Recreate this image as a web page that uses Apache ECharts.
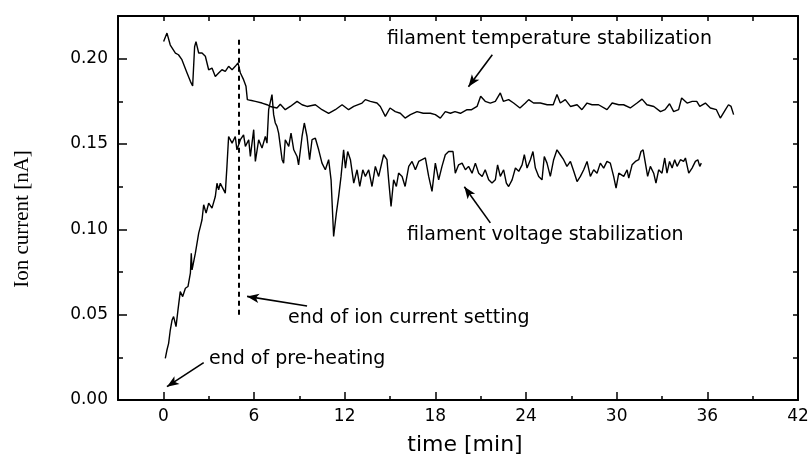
<!DOCTYPE html>
<html>
<head>
<meta charset="utf-8">
<script src="https://cdn.jsdelivr.net/npm/echarts@6/dist/echarts.min.js"></script>
<style>
html,body{margin:0;padding:0;background:#fff;}
#c{width:812px;height:458px;}
</style>
</head>
<body>
<div id="c"></div>
<script>
// ---- data ----
const tempT = [0.02,0.24,0.46,0.8,1.0,1.23,1.57,1.79,1.94,2.07,2.16,2.34,2.56,2.78,3.0,3.22,3.44,3.66,3.88,4.1,4.32,4.55,4.76,4.94,5.1,5.31,5.47,5.56,5.76,6.09,6.53,6.86,7.08,7.52,7.74,8.07,8.4,8.85,9.18,9.51,10.06,10.5,10.94,11.38,11.83,12.26,12.6,13.15,13.37,13.7,14.14,14.36,14.69,15.0,15.35,15.68,16.0,16.35,16.79,17.2,17.67,18.0,18.33,18.66,19.0,19.3,19.66,20.1,20.4,20.76,21.0,21.3,21.64,21.97,22.3,22.5,22.85,23.18,23.6,23.96,24.18,24.5,24.95,25.4,25.8,26.05,26.27,26.6,26.94,27.38,27.7,28.04,28.37,28.8,29.36,29.7,30.14,30.46,30.9,31.35,31.68,32.0,32.46,32.9,33.2,33.5,33.77,34.1,34.3,34.66,35.0,35.3,35.5,35.87,36.2,36.6,36.86,37.2,37.4,37.57,37.74];
const tempV = [0.210,0.215,0.208,0.2033,0.2023,0.1994,0.1916,0.1867,0.184,0.207,0.210,0.2033,0.2033,0.2014,0.1935,0.1945,0.1896,0.1916,0.1935,0.1926,0.1955,0.1935,0.1955,0.1975,0.1916,0.1877,0.1838,0.176,0.1756,0.175,0.174,0.173,0.172,0.1711,0.1733,0.1701,0.172,0.175,0.173,0.172,0.173,0.1701,0.168,0.1701,0.173,0.1701,0.172,0.174,0.176,0.175,0.174,0.172,0.1662,0.1711,0.169,0.168,0.1652,0.1672,0.169,0.168,0.168,0.1672,0.1652,0.169,0.168,0.169,0.168,0.1701,0.1701,0.172,0.178,0.175,0.174,0.175,0.1799,0.175,0.176,0.174,0.1711,0.174,0.176,0.174,0.174,0.173,0.173,0.179,0.174,0.176,0.172,0.173,0.1701,0.174,0.173,0.173,0.1701,0.174,0.173,0.173,0.1711,0.174,0.1763,0.173,0.172,0.169,0.1701,0.1736,0.169,0.1701,0.177,0.174,0.175,0.175,0.172,0.174,0.1711,0.1701,0.1652,0.1701,0.173,0.172,0.1672];

const voltT = [0.13,0.24,0.35,0.46,0.58,0.68,0.84,0.97,1.12,1.28,1.46,1.63,1.79,1.85,1.9,2.12,2.34,2.45,2.56,2.67,2.83,3.0,3.22,3.44,3.55,3.66,3.77,3.88,4.1,4.21,4.32,4.55,4.76,4.87,5.1,5.31,5.43,5.65,5.76,5.98,6.09,6.31,6.53,6.75,6.86,6.97,7.19,7.3,7.41,7.52,7.63,7.86,7.96,8.07,8.3,8.45,8.63,8.85,8.95,9.18,9.33,9.51,9.68,9.84,10.06,10.28,10.5,10.72,10.94,11.1,11.27,11.45,11.6,11.76,11.93,12.05,12.2,12.38,12.6,12.82,13.0,13.2,13.37,13.59,13.81,14.03,14.25,14.58,14.8,14.91,15.07,15.24,15.42,15.57,15.8,16.0,16.24,16.46,16.68,16.9,17.12,17.34,17.56,17.78,18.0,18.22,18.44,18.66,18.88,19.0,19.17,19.32,19.54,19.77,19.99,20.2,20.43,20.65,20.87,21.1,21.3,21.53,21.75,21.97,22.12,22.3,22.52,22.7,22.85,23.08,23.3,23.52,23.74,23.89,24.07,24.29,24.46,24.62,24.84,25.06,25.21,25.39,25.61,25.83,26.05,26.27,26.49,26.71,26.94,27.16,27.38,27.6,27.82,28.04,28.26,28.48,28.7,28.92,29.14,29.36,29.58,29.8,29.96,30.14,30.25,30.47,30.69,30.8,31.02,31.24,31.46,31.61,31.75,31.9,32.05,32.23,32.45,32.6,32.78,33.0,33.18,33.33,33.5,33.67,33.84,34.0,34.22,34.43,34.55,34.77,34.99,35.21,35.37,35.5,35.6];
const voltV = [0.0244,0.0293,0.0332,0.041,0.0469,0.0489,0.043,0.0528,0.0635,0.0606,0.0655,0.0665,0.0743,0.086,0.0762,0.086,0.0978,0.1016,0.1056,0.1144,0.1095,0.1153,0.1124,0.1192,0.127,0.1232,0.127,0.125,0.1212,0.1369,0.1544,0.1505,0.1544,0.1466,0.1525,0.1554,0.1486,0.1525,0.1427,0.1584,0.1398,0.1525,0.1476,0.1544,0.1505,0.1701,0.1789,0.1672,0.1623,0.1603,0.1564,0.1408,0.1388,0.1525,0.1486,0.1564,0.1466,0.1427,0.1378,0.1544,0.1623,0.1544,0.1408,0.1525,0.1534,0.1466,0.1388,0.1349,0.1408,0.129,0.0958,0.1095,0.1192,0.131,0.1466,0.1359,0.1456,0.1408,0.1271,0.1349,0.1251,0.1349,0.131,0.1349,0.1251,0.1369,0.131,0.1437,0.1408,0.129,0.1134,0.129,0.1251,0.133,0.131,0.1251,0.1369,0.1398,0.1349,0.1398,0.1408,0.1418,0.131,0.1222,0.1388,0.129,0.1369,0.1437,0.1456,0.1446,0.1456,0.1329,0.1378,0.1388,0.1349,0.1369,0.1329,0.1388,0.1329,0.131,0.1349,0.129,0.1271,0.129,0.1378,0.131,0.1349,0.1271,0.1251,0.129,0.1359,0.134,0.1378,0.1437,0.1359,0.1408,0.1456,0.1359,0.131,0.129,0.1427,0.1388,0.131,0.1408,0.1466,0.1437,0.1408,0.1369,0.1398,0.134,0.128,0.131,0.1349,0.1398,0.131,0.1349,0.1329,0.1388,0.1359,0.1398,0.1388,0.131,0.1241,0.1329,0.134,0.131,0.1349,0.13,0.1378,0.1398,0.1408,0.1456,0.1466,0.1388,0.131,0.1369,0.1329,0.1271,0.1349,0.1329,0.1418,0.1329,0.1398,0.1359,0.1408,0.1369,0.1408,0.1398,0.1418,0.1329,0.1359,0.1398,0.1408,0.1369,0.1388];

const xMajorTicks = [0,6,12,18,24,30,36,42];
const xMinorTicks = [3,9,15,21,27,33,39];
const xTopTicks = [0,3,6,9,12,15,18,21,24,27,30,33,36,39];
const yMajorTicks = [0,0.05,0.10,0.15,0.20];
const yMinorTicks = [0.025,0.075,0.125,0.175];
const yRightTicks = [0.025,0.05,0.075,0.10,0.125,0.15,0.175,0.20];

const xTitle = 'time [min]';
const yTitle = 'Ion current [nA]';

// marker line (end of ion current setting) and annotation arrows, data coords
const markerTime = 5;
const markerRange = [0.05, 0.2135];
const arrows = [
  [[21.77,0.2023],[20.19,0.1836]],
  [[21.64,0.1038],[19.92,0.1249]],
  [[9.51,0.0551],[5.54,0.0607]],
  [[2.67,0.0219],[0.24,0.0078]]
];
const notes = [
  {text:'filament temperature stabilization', x:387, y:41},
  {text:'filament voltage stabilization', x:407, y:237},
  {text:'end of ion current setting', x:288, y:320},
  {text:'end of pre-heating', x:209, y:361}
];

const zip = (a,b)=>a.map((v,i)=>[v,b[i]]);
const sans = 'DejaVu Sans';
const black = '#000';

const chart = echarts.init(document.getElementById('c'), null, {renderer:'canvas'});

const markData = [
  [{coord:[markerTime, markerRange[0]], symbol:'none', lineStyle:{type:[5,4], width:2}},
   {coord:[markerTime, markerRange[1]], symbol:'none'}]
].concat(arrows.map(a=>[
  {coord:a[0], symbol:'none', lineStyle:{type:'solid', width:1.6}},
  {coord:a[1], symbol:'arrow', symbolSize:[7,12]}
]));

const axisLineStyle = {show:true, onZero:false, lineStyle:{color:black, width:2}};

const graphics = notes.map(n=>({type:'text', left:n.x, top:n.y-11, silent:true,
    style:{text:n.text, fill:black, font:'19px "DejaVu Sans"'}}));
graphics.push({type:'text', x:465, y:445, silent:true,
  style:{text:xTitle, fill:black, font:'22px "DejaVu Sans"', align:'center', verticalAlign:'middle'}});
graphics.push({type:'text', x:22, y:219, rotation:Math.PI/2, silent:true,
  style:{text:yTitle, fill:black, font:'21px "Liberation Serif"', align:'center', verticalAlign:'middle'}});

const option = {
  backgroundColor:'#fff',
  animation:false,
  grid:{left:118, right:14, top:16, bottom:58},
  xAxis:[
    {type:'value', position:'bottom', min:-3, max:42,
     axisLine:axisLineStyle,
     axisTick:{show:true, inside:true, length:8, customValues:xMajorTicks, lineStyle:{color:black, width:1.5}},
     axisLabel:{customValues:xMajorTicks, color:black, fontFamily:sans, fontSize:17, margin:8},
     splitLine:{show:false}},
    {type:'value', position:'bottom', min:-3, max:42,
     axisLine:{show:false, onZero:false},
     axisTick:{show:true, inside:true, length:4, customValues:xMinorTicks, lineStyle:{color:black, width:1.5}},
     axisLabel:{show:false}, splitLine:{show:false}},
    {type:'value', position:'top', min:-3, max:42,
     axisLine:axisLineStyle,
     axisTick:{show:true, inside:true, length:5, customValues:xTopTicks, lineStyle:{color:black, width:1.5}},
     axisLabel:{show:false}, splitLine:{show:false}}
  ],
  yAxis:[
    {type:'value', position:'left', min:0, max:0.225,
     axisLine:axisLineStyle,
     axisTick:{show:true, inside:true, length:9, customValues:yMajorTicks, lineStyle:{color:black, width:1.5}},
     axisLabel:{customValues:yMajorTicks, color:black, fontFamily:sans, fontSize:17, margin:10,
       formatter:v=>v.toFixed(2)},
     splitLine:{show:false}},
    {type:'value', position:'left', min:0, max:0.225,
     axisLine:{show:false, onZero:false},
     axisTick:{show:true, inside:true, length:5, customValues:yMinorTicks, lineStyle:{color:black, width:1.5}},
     axisLabel:{show:false}, splitLine:{show:false}},
    {type:'value', position:'right', min:0, max:0.225,
     axisLine:axisLineStyle,
     axisTick:{show:true, inside:true, length:5, customValues:yRightTicks, lineStyle:{color:black, width:1.5}},
     axisLabel:{show:false}, splitLine:{show:false}}
  ],
  series:[
    {type:'line', name:'temperature', data:zip(tempT,tempV), showSymbol:false, symbol:'none',
     lineStyle:{color:black, width:1.4}, xAxisIndex:0, yAxisIndex:0,
     markLine:{silent:true, animation:false, label:{show:false},
       lineStyle:{color:black}, itemStyle:{color:black}, data:markData}},
    {type:'line', name:'voltage', data:zip(voltT,voltV), showSymbol:false, symbol:'none',
     lineStyle:{color:black, width:1.4}, xAxisIndex:0, yAxisIndex:0}
  ],
  graphic: graphics
};
chart.setOption(option);
</script>
</body>
</html>
